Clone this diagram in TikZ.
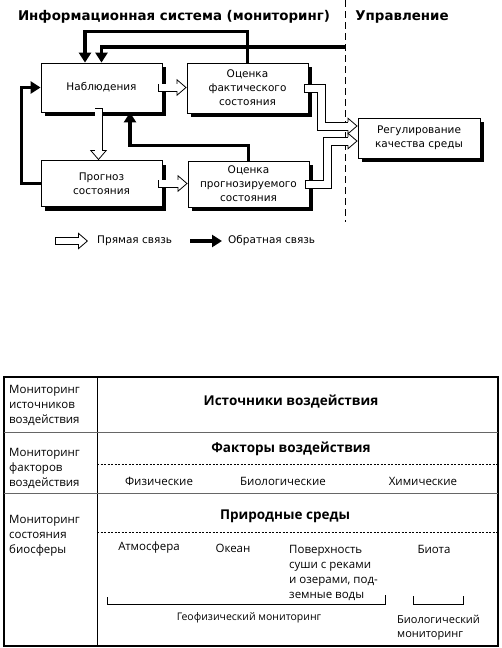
\documentclass[tikz,border=0pt]{standalone}
\usepackage{fontspec}
\setmainfont{DejaVu Sans}
\newfontfamily\tblfont{Open Sans}
\usetikzlibrary{arrows.meta, shadows, calc}

\tikzset{
  block/.style={draw, line width=0.8pt, fill=white, align=center, minimum width=121pt,
    font=\fontsize{10.5}{14}\selectfont,
    drop shadow={fill=black, opacity=1, shadow xshift=4pt, shadow yshift=-4pt}},
  back/.style={line width=3.6pt, -{Triangle[length=10pt, width=12pt]}},
  pipeout/.style={line width=8pt, line join=miter},
  pipehead/.style={line width=0.8pt, -{Triangle[length=10pt, width=17pt, fill=white]}},
  pipein/.style={white, line width=6.4pt, line join=miter},
  pipewall/.style={line width=0.8pt, line join=miter},
  lbl/.style={inner sep=0pt, font=\fontsize{10.5}{14}\selectfont},
  head/.style={inner sep=0pt, font=\fontsize{13.4}{15}\selectfont\bfseries},
  cell/.style={inner sep=0pt, align=left, font=\tblfont\fontsize{11.5}{15}\selectfont},
  cellhead/.style={inner sep=0pt, font=\tblfont\fontsize{13.5}{15}\selectfont\bfseries},
  sep/.style={line width=0.6pt, dash pattern=on 2pt off 1.5pt},
}
% straight hollow arrow: #1 start, #2 end
\newcommand{\hollow}[2]{%
  \draw[pipeout] (#1) -- ($(#2)!9pt!(#1)$);
  \draw[pipehead] ($(#2)!12pt!(#1)$) -- (#2);
  \draw[pipein] ($(#1)!0.8pt!(#2)$) -- ($(#2)!8pt!(#1)$);}
% bent hollow arrow: #1 start, #2 bend, #3 end, #4 and #5 wall offsets
\newcommand{\bentpipe}[5]{%
  \draw[pipehead] ($(#3)+(-12,0)$) -- (#3);
  \fill[white] ($(#1)+(0,-4)$) -- ($(#1 -| #2)+(#4,-4)$) -- ($(#2)+(#4,-4)$) -- ($(#3)+(-8,-4)$)
    -- ($(#3)+(-8,4)$) -- ($(#2)+(#5,4)$) -- ($(#1 -| #2)+(#5,4)$) -- ($(#1)+(0,4)$) -- cycle;
  \draw[pipewall] ($(#3)+(-9.4,-4)$) -- ($(#2)+(#4,-4)$) -- ($(#1 -| #2)+(#4,-4)$) -- ($(#1)+(0,-4)$)
    -- ($(#1)+(0,4)$) -- ($(#1 -| #2)+(#5,4)$) -- ($(#2)+(#5,4)$) -- ($(#3)+(-9.4,4)$);}

\begin{document}
\begin{tikzpicture}[x=1pt, y=-1pt]
	\useasboundingbox (0,0) rectangle (501,648);
	\node[head] (info) at (174,17) {Информационная система (мониторинг)};
	\node[head] (upr) at (402,17) {Управление};
	\draw[line width=0.8pt, dash pattern=on 7pt off 4pt] (345,0) -- (345,222);
	\coordinate (uprline) at (345,47);

	\node[block, minimum height=49pt] (nabl) at (101.5,87.5) {Наблюдения};
	\node[block, minimum height=50pt] (fakt) at (247.5,88) {Оценка\\фактического\\состояния};
	\node[block, minimum height=46pt] (progn) at (101.5,183.5) {Прогноз\\состояния};
	\node[block, minimum height=46pt] (oprog) at (248.5,184) {Оценка\\прогнозируемого\\состояния};
	\node[block, minimum width=122pt, minimum height=40pt] (reg) at (419,138) {Регулирование\\качества среды};

	\coordinate (o1) at ([xshift=-4pt]nabl.east);
	\coordinate (e1) at (nabl.east -| fakt.west);
	\coordinate (o2) at ([xshift=-3pt,yshift=4pt]nabl.south);
	\coordinate (e2) at ([xshift=-3pt]progn.north);
	\coordinate (o3) at ([xshift=-4pt]progn.east);
	\coordinate (e3) at (progn.east -| oprog.west);
	\coordinate (o4) at ([xshift=-4pt]fakt.east);
	\coordinate (in1) at ($(reg.west)+(0,-12)$);
	\coordinate (bend1) at ($(in1)+(-36,0)$);
	\coordinate (o5) at ([xshift=-4pt]oprog.east);
	\coordinate (in2) at ($(reg.west)+(0,3)$);
	\coordinate (bend2) at ($(in2)+(-30,0)$);

	\hollow{o1}{e1}
	\hollow{o2}{e2}
	\hollow{o3}{e3}
	\bentpipe{o4}{bend1}{in1}{4}{-4}
	\bentpipe{o5}{bend2}{in2}{-4}{4}

	\draw[back] (fakt.north) -- ++(0,-31) -| ([xshift=-16.5pt]nabl.north);
	\draw[back] (uprline) -| (nabl.north);
	\draw[back] (oprog.north) -- ++(0,-15) -| ([xshift=28.5pt]nabl.south);
	\draw[back] (progn.west) -- ++(-19,0) |- (nabl.west);

	\coordinate (lg1s) at (55,241);
	\coordinate (lg1e) at (88,241);
	\coordinate (lg2s) at (190,241);
	\coordinate (lg2e) at (222,241);
	\hollow{lg1s}{lg1e}
	\draw[back] (lg2s) -- (lg2e);
	\node[lbl, anchor=west] (direct) at (97,241) {Прямая связь};
	\node[lbl, anchor=west] (feedback) at (228,241) {Обратная связь};

	\draw[line width=1.6pt] (4,377) rectangle (498,646);
	\draw[line width=1pt] (97,377) -- (97,646);
	\draw[line width=1pt, black!60] (4,432) -- (498,432) (4,493) -- (498,493);
	\draw[sep] (97,464) -- (498,464) (97,532) -- (498,532);
	\node[cell, anchor=north west] (mon1) at (9,385) {Мониторинг\\источников\\воздействия};
	\node[cell, anchor=north west] (mon2) at (9,448) {Мониторинг\\факторов\\воздействия};
	\node[cell, anchor=north west] (mon3) at (9,515) {Мониторинг\\состояния\\биосферы};
	\node[cellhead] (src) at (291,402) {Источники воздействия};
	\node[cellhead] (fac) at (291,449) {Факторы воздействия};
	\node[cell] (phys) at (159,481) {Физические};
	\node[cell] (bio) at (283,481) {Биологические};
	\node[cell] (chem) at (423,481) {Химические};
	\node[cellhead] (env) at (285,516) {Природные среды};
	\node[cell] (atm) at (149,548) {Атмосфера};
	\node[cell] (ocean) at (233,548) {Океан};
	\node[cell, anchor=north west] (land) at (289,545) {Поверхность\\суши с реками\\и озерами, под-\\земные воды};
	\node[cell] (biota) at (434,549) {Биота};
	\draw[line width=0.8pt] (107,597) |- (385,604) -- (385,595);
	\draw[line width=0.8pt] (413,596) |- (463,604) -- (463,596);
	\node[cell, font=\tblfont\fontsize{10.5}{14}\selectfont] (geo) at (249,618) {Геофизический мониторинг};
	\node[cell, anchor=north west, font=\tblfont\fontsize{11}{14}\selectfont] (biomon) at (397,615) {Биологический\\мониторинг};
\end{tikzpicture}
\end{document}
